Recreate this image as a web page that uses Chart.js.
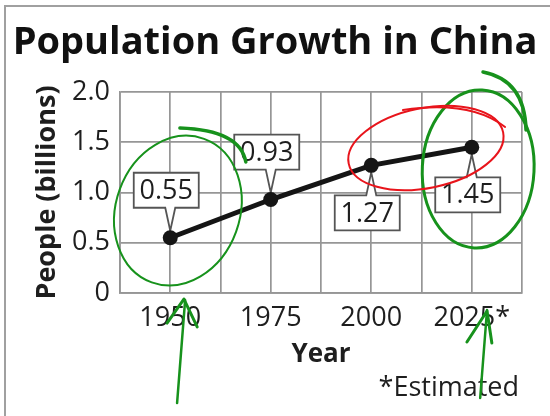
<!DOCTYPE html>
<html>
<head>
<meta charset="utf-8">
<script src="https://cdn.jsdelivr.net/npm/chart.js@4"></script>
<style>
  html, body { margin: 0; padding: 0; background: #fff; }
  #wrap { position: relative; width: 550px; height: 416px; overflow: hidden; }
  #frame { position: absolute; left: 4px; top: 5px; width: 600px; height: 500px;
           border-left: 2px solid #a0a0a0; border-top: 2px solid #a0a0a0; }
  #chart { position: absolute; left: 0; top: 0; }
</style>
</head>
<body>
<div id="wrap">
  <div id="frame"></div>
  <canvas id="chart" width="550" height="416"></canvas>
</div>
<script>
const years = [1950, 1975, 2000, 2025];
const yearLabels = ['1950', '1975', '2000', '2025*'];
const population = [0.55, 0.93, 1.27, 1.45];
const yTickLabels = ['0', '0.5', '1.0', '1.5', '2.0'];
const footnote = '*Estimated';

const FONT = "'Open Sans', 'Noto Sans', sans-serif";
const INK = '#1e1e1e';

// which side of the point each value box sits on
const calloutSide = ['up', 'up', 'down', 'down'];

const calloutPlugin = {
  id: 'callouts',
  beforeDatasetsDraw(chart) {
    const ctx = chart.ctx;
    const pts = chart.getDatasetMeta(0).data;
    ctx.save();
    ctx.font = '27px ' + FONT;
    ctx.textAlign = 'center';
    ctx.textBaseline = 'middle';
    pts.forEach((pt, i) => {
      const w = 65, h = 35, gap = 30, r = 7;
      const cx = pt.x - 4;
      const up = calloutSide[i] === 'up';
      const edge = up ? pt.y - gap : pt.y + gap;
      const top = up ? edge - h : edge;
      const bottom = up ? edge : edge + h;
      const tip = up ? pt.y - r : pt.y + r;
      ctx.beginPath();
      ctx.moveTo(cx - w / 2, top);
      if (!up) { ctx.lineTo(pt.x - 5, top); ctx.lineTo(pt.x, tip); ctx.lineTo(pt.x + 5, top); }
      ctx.lineTo(cx + w / 2, top);
      ctx.lineTo(cx + w / 2, bottom);
      if (up) { ctx.lineTo(pt.x + 5, bottom); ctx.lineTo(pt.x, tip); ctx.lineTo(pt.x - 5, bottom); }
      ctx.lineTo(cx - w / 2, bottom);
      ctx.closePath();
      ctx.fillStyle = '#fff';
      ctx.fill();
      ctx.lineWidth = 1.8;
      ctx.strokeStyle = '#555';
      ctx.stroke();
      ctx.fillStyle = INK;
      ctx.fillText(population[i].toFixed(2), cx, (top + bottom) / 2 + 1);
    });
    ctx.restore();
  }
};

// footnote under the x axis, right-aligned to the plot
const footnotePlugin = {
  id: 'footnote',
  afterDraw(chart) {
    const ctx = chart.ctx;
    ctx.save();
    ctx.font = '27px ' + FONT;
    ctx.fillStyle = INK;
    ctx.textAlign = 'right';
    ctx.textBaseline = 'middle';
    ctx.fillText(footnote, chart.chartArea.right - 3, chart.chartArea.bottom + 95);
    ctx.restore();
  }
};

// hand-drawn pen marks, placed in data space
const inkMarks = [
  { kind: 'ellipse', color: '#17921c', width: 2, x: 1951.9, y: 0.82, rx: 15.4, ry: 0.76, rot: 0.35 },
  { kind: 'curve', color: '#17921c', width: 3.5, pts: [[1952.4, 1.642], [1967.4, 1.622], [1968.8, 1.303]] },
  { kind: 'ellipse', color: '#17921c', width: 3, x: 2026.6, y: 1.234, rx: 13.9, ry: 0.786, rot: 0.05 },
  { kind: 'curve', color: '#17921c', width: 3.5, pts: [[2027.8, 2.199], [2038.2, 2.119], [2038.5, 1.622]] },
  { kind: 'ellipse', color: '#e8141b', width: 2, x: 2013.6, y: 1.443, rx: 19.6, ry: 0.398, rot: -0.2 },
  { kind: 'curve', color: '#e8141b', width: 2, pts: [[2007.9, 1.821], [2024.6, 1.92], [2033.3, 1.652]] },
  { kind: 'line', color: '#17921c', width: 2.5, pts: [[1953.7, -0.07], [1951.7, -1.095]] },
  { kind: 'line', color: '#17921c', width: 3, pts: [[1949.2, -0.299], [1953.4, -0.06], [1956.7, -0.338]] },
  { kind: 'line', color: '#17921c', width: 2.5, pts: [[2028.8, -0.169], [2027.1, -1.045]] },
  { kind: 'line', color: '#17921c', width: 3, pts: [[2023.8, -0.488], [2028.8, -0.179], [2030.0, -0.498]] }
];

const inkPlugin = {
  id: 'ink',
  afterDraw(chart) {
    const ctx = chart.ctx;
    const xs = chart.scales.x, ys = chart.scales.y;
    const px = v => xs.getPixelForValue(v), py = v => ys.getPixelForValue(v);
    ctx.save();
    ctx.lineCap = 'round';
    ctx.lineJoin = 'round';
    inkMarks.forEach(m => {
      ctx.strokeStyle = m.color;
      ctx.lineWidth = m.width;
      ctx.beginPath();
      if (m.kind === 'ellipse') {
        const rx = Math.abs(px(m.x + m.rx) - px(m.x));
        const ry = Math.abs(py(m.y + m.ry) - py(m.y));
        ctx.ellipse(px(m.x), py(m.y), rx, ry, m.rot, 0, Math.PI * 2);
      } else if (m.kind === 'curve') {
        const [a, c, b] = m.pts;
        ctx.moveTo(px(a[0]), py(a[1]));
        ctx.quadraticCurveTo(px(c[0]), py(c[1]), px(b[0]), py(b[1]));
      } else {
        m.pts.forEach((p, i) => i ? ctx.lineTo(px(p[0]), py(p[1])) : ctx.moveTo(px(p[0]), py(p[1])));
      }
      ctx.stroke();
    });
    ctx.restore();
  }
};

const gridColor = '#969696';

new Chart(document.getElementById('chart'), {
  type: 'line',
  data: {
    datasets: [{
      data: years.map((y, i) => ({ x: y, y: population[i] })),
      borderColor: '#151515',
      borderWidth: 5,
      pointRadius: 7.5,
      pointBackgroundColor: '#151515',
      pointBorderWidth: 0,
      tension: 0
    }]
  },
  options: {
    responsive: false,
    animation: false,
    events: [],
    layout: { padding: 0 },
    plugins: {
      legend: { display: false },
      tooltip: { enabled: false },
      title: {
        display: true,
        text: 'Population Growth in China',
        color: '#111',
        font: { family: FONT, size: 38, weight: 'bold', lineHeight: 1 },
        padding: { top: 24, bottom: 30 }
      }
    },
    scales: {
      x: {
        type: 'linear',
        min: 1937.5,
        max: 2037.5,
        afterBuildTicks: scale => {
          const t = [];
          for (let v = 1937.5; v <= 2037.5; v += 12.5) t.push({ value: v });
          scale.ticks = t;
        },
        afterFit: scale => { scale.height = 123; },
        grid: { color: gridColor, lineWidth: 1.7, drawTicks: false },
        border: { color: gridColor, width: 1.7 },
        ticks: {
          autoSkip: false,
          maxRotation: 0,
          padding: 11.5,
          color: INK,
          font: { family: FONT, size: 27, lineHeight: 1 },
          callback: v => {
            const i = years.indexOf(v);
            return i >= 0 ? yearLabels[i] : '';
          }
        },
        title: {
          display: true,
          text: 'Year',
          color: INK,
          font: { family: FONT, size: 26, weight: 'bold', lineHeight: 1 },
          padding: { top: 0, bottom: 48 }
        }
      },
      y: {
        min: 0,
        max: 2,
        afterFit: scale => { scale.width = 120; },
        grid: { color: gridColor, lineWidth: 1.7, drawTicks: false },
        border: { color: gridColor, width: 1.7 },
        ticks: {
          stepSize: 0.5,
          padding: 10,
          color: INK,
          font: { family: FONT, size: 27, lineHeight: 1 },
          callback: (v, i) => yTickLabels[i]
        },
        title: {
          display: true,
          text: 'People (billions)',
          color: INK,
          font: { family: FONT, size: 27, weight: 'bold', lineHeight: 1 },
          padding: { top: 33.5, bottom: 0 }
        }
      },
      // empty right-hand spacer so the plot stops short of the page edge
      spacer: {
        position: 'right',
        display: true,
        afterFit: scale => { scale.width = 28; },
        grid: { display: false },
        border: { display: false },
        ticks: { display: false }
      }
    }
  },
  plugins: [calloutPlugin, footnotePlugin, inkPlugin]
});
</script>
</body>
</html>
